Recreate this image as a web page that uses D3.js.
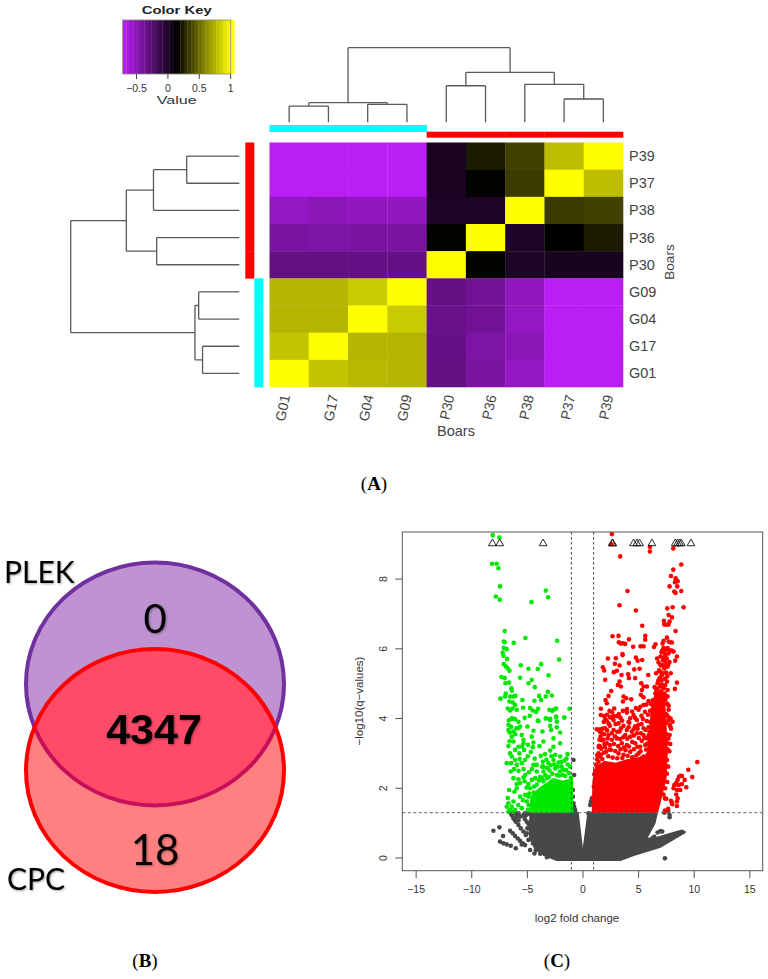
<!DOCTYPE html>
<html>
<head>
<meta charset="utf-8">
<script src="https://cdn.jsdelivr.net/npm/d3@7"></script>
<style>
  html, body { margin: 0; padding: 0; background: #fff; }
  text { font-family: "Liberation Sans", Arial, sans-serif; }
</style>
</head>
<body>
<svg id="fig" width="768" height="979"></svg>
<script>
// (A) correlation heatmap
var colNames = ["G01", "G17", "G04", "G09", "P30", "P36", "P38", "P37", "P39"];
var rowNames = ["P39", "P37", "P38", "P36", "P30", "G09", "G04", "G17", "G01"];
var corr = [
  [-.72, -.72, -.72, -.72, .02, .23, .36, .78, 1],
  [-.72, -.72, -.72, -.72, .02, .15, .34, 1, .78],
  [-.54, -.50, -.53, -.53, 0, 0, 1, .34, .36],
  [-.42, -.44, -.42, -.42, .15, 1, 0, .14, .23],
  [-.32, -.32, -.33, -.33, 1, .15, .01, .03, .03],
  [.75, .75, .82, 1, -.32, -.38, -.52, -.72, -.72],
  [.75, .75, 1, .82, -.34, -.38, -.54, -.72, -.72],
  [.80, 1, .75, .75, -.33, -.44, -.50, -.72, -.72],
  [1, .80, .76, .75, -.32, -.42, -.54, -.72, -.72]
];
var colGroups = ["#00ffff", "#00ffff", "#00ffff", "#00ffff", "#ff0000", "#ff0000", "#ff0000", "#ff0000", "#ff0000"];
var keyTicks = [-0.5, 0, 0.5, 1];
var colLabelNudge = [-4, 5, 1, 0, 3, 6, 4, 6, 5];

// dendrogram, heights as a share of the root height
var tree = {h: 1, kids: [
  {h: .263, kids: [
    {h: .218, kids: ["G01", "G17"]},
    {h: .241, kids: ["G04", "G09"]}
  ]},
  {h: .67, kids: [
    {h: .49, kids: ["P30", "P36"]},
    {h: .509, kids: ["P38", {h: .312, kids: ["P37", "P39"]}]}
  ]}
]};

// (B) venn counts
var vennLabels = ["PLEK", "CPC"];
var vennCounts = {plekOnly: "0", both: "4347", cpcOnly: "18"};

// (C) volcano, [log2 fold change, -log10 q]
var xTicks = [-15, -10, -5, 0, 5, 10, 15];
var yTicks = [0, 2, 4, 6, 8];
var fcCut = 1, qCut = 1.3;
var capped = [-8.1, -7.44, -3.54, 2.67, 2.72, 4.59, 4.89, 5.13, 6.24, 8.34, 8.55, 8.73, 8.88, 9.75];

var greenPts = [[-8.07,9.26],[-7.47,9.19],[-8.13,8.44],[-7.71,8.44],[-7.56,8.31],[-7.41,7.79],[-7.8,7.5],[-7.44,7.41],[-4.59,7.34],[-3.3,7.67],[-3.09,7.48],
  [-6.99,6.51],[-5.13,6.31],[-2.28,6.23],[-7.08,6.21],[-6.99,6.19],[-6.18,6.17],[-7.08,6.03],[-6.81,5.99],[-7.17,5.89],[-6.78,5.71],[-2.1,5.69],[-7.11,5.8],
  [-7.08,5.56],[-6.87,5.49],[-6.72,5.44],[-6.57,5.37],[-5.55,5.53],[-4.86,5.43],[-4.02,5.42],[-3.72,5.56],[-3.06,5.24],[-5.61,5.17],[-7.29,5.19],[-6.99,5.16],
  [-6.93,5.01],[-6.6,5.03],[-4.56,5.11],[-4.86,5.01],[-4.29,4.9],[-6.39,4.87],[-6.36,4.8],[-6.9,4.72],[-3.12,4.77],[-7.38,4.57],[-6.96,4.63],[-6.51,4.63],[-6.21,4.63],
  [-6.03,4.65],[-6.57,4.49],[-6.27,4.46],[-6.06,4.39],[-5.4,4.53],[-4.32,4.51],[-3.9,4.65],[-3.72,4.53],[-3.3,4.63],[-2.76,4.66],[-6.72,4.29],[-6.51,4.23],[-6.3,4.29],
  [-5.91,4.25],[-5.34,4.31],[-4.71,4.3],[-4.47,4.23],[-3.99,4.28],[-4.17,4.19],[-2.97,4.25],[-2.73,4.22],[-2.37,4.29],[-1.17,4.28],[-2.55,4.26],[-4.74,4.08],
  [-6.36,3.99],[-6.15,3.99],[-3.3,4.0],[-2.91,3.99],[-2.37,4.03],[-1.62,4.03],[-4.02,3.94],
  [-6.36,4.01],[-6.06,3.98],[-6.66,3.82],[-5.76,3.91],[-5.61,3.77],[-6.66,3.67],[-6.21,3.63],[-5.76,3.72],[-5.46,3.53],[-6.36,3.48],[-4.95,3.77],[-4.41,3.65],[-3.6,3.63],
  [-3.96,3.93],[-3.27,4.01],[-2.91,3.96],[-2.37,4.06],[-1.65,4.03],[-2.31,3.91],[-2.91,3.79],[-2.82,3.67],[-2.31,3.75],[-2.01,3.6],[-2.61,3.43],[-4.56,3.48],[-5.31,3.39],
  [-6.66,3.21],[-6.21,3.34],[-5.76,3.19],[-5.31,3.29],[-6.06,3.1],[-6.51,3.0],[-5.67,3.0],[-5.25,3.1],[-4.41,3.31],[-4.47,3.18],[-4.65,3.04],[-3.51,3.34],[-3.87,3.21],
  [-2.61,3.19],[-2.01,3.29],[-2.91,3.08],[-2.46,2.96],[-3.36,2.98],[-3.75,2.93],[-1.35,2.98],[-2.01,2.91],[-6.36,2.91],[-6.06,2.81],[-6.81,2.72],[-5.91,2.67],[-5.16,2.81],
  [-5.46,2.72],[-4.11,2.67],[-4.41,2.67],[-3.57,2.76],[-2.61,2.81],[-3.51,2.62],[-3.06,2.72],[-2.16,2.74],[-1.65,2.79],
  [-6.21,2.29],[-5.76,2.26],[-5.16,2.38],[-5.31,2.31],[-4.11,2.48],[-3.51,2.48],[-2.97,2.51],[-2.46,2.57],[-1.71,2.53],[-2.01,2.48],[-4.56,2.24],[-4.86,2.12],[-4.26,2.29],
  [-3.81,2.33],[-3.21,2.29],[-2.31,2.38],[-1.56,2.35],
  [-6.6,1.95],[-5.91,2.0],[-5.61,1.76],[-5.16,1.81],[-4.86,1.76],[-6.66,1.57],[-6.21,1.62],[-6.81,1.47],[-6.36,1.47],[-6.06,1.38],[-5.46,1.43],[-5.01,1.62],[-4.56,1.47],
  [-6.51,1.38],[-6.66,1.33],[-6.21,1.33],[-4.71,2.0],[-4.35,2.05],
  [-3.62,2.62],[-3.18,2.58],[-2.88,2.66],[-2.72,2.42],[-2.55,2.68],[-2.24,2.62],[-2.12,2.36],[-1.88,2.62],[-1.76,2.38],[-1.48,2.52],[-1.22,2.44],[-1.33,2.68],[-1.12,2.62],
  [-1.05,2.3],[-3.35,2.38],[-3.02,2.32],[-3.66,2.3],[-3.92,2.22],[-4.12,2.1],[-3.52,2.2],[-4.38,1.88],[-4.46,1.62],[-4.85,1.52],[-4.92,1.38],[-4.78,1.85],[-3.24,2.82],
  [-2.78,2.92],[-1.92,2.75],[-1.45,2.85],[-5.62,2.15],[-5.2,2.2],[-5.02,2.02],[-5.92,2.12],[-6.12,1.9],[-5.35,1.66],[-5.78,1.52],[-6.72,1.72],[-6.45,2.48],[-6.15,2.55],
  [-5.75,2.5],[-5.3,2.55],[-4.82,2.46],[-4.55,2.55],[-6.42,2.72],[-5.65,2.84],[-4.92,2.92],[-4.3,2.85],[-6.55,3.35],[-6.05,3.55],[-5.45,3.2],[-4.9,3.25],[-6.62,3.95],
  [-6.42,3.76],[-5.95,3.72],[-5.2,4.02],[-6.55,3.6]];
var greenMass = [[-.96,2.24],[-1.86,2.19],[-2.61,2.26],[-3.21,2.12],[-3.81,2.0],[-4.56,1.76],[-4.65,1.33],[-.96,1.33]];

var redPts = [[2.64,9.29],[2.64,9.0],[3.39,8.65],[6.06,8.92],[6.06,8.79],[8.16,8.88],[8.88,8.42],[8.16,8.27],[7.95,8.09],[8.37,8.02],[8.55,7.94],[8.31,7.91],[8.4,7.98],
  [7.83,7.79],[8.52,7.79],[4.05,7.66],[8.88,7.66],[8.25,7.64],[8.37,7.6],[3.33,7.25],[4.8,7.1],[7.62,7.16],[8.1,7.19],[9.09,7.19],[7.74,6.97],[8.04,6.9],[7.32,6.8],[7.35,6.7],
  [7.83,6.78],[7.53,6.69],[7.74,6.7],[5.37,6.66],[8.37,6.51],[2.7,6.36],[3.24,6.37],[5.64,6.37],[5.64,6.26],[4.17,6.27],[7.59,6.32],[7.29,6.23],[3.27,6.19],[3.45,6.15],
  [3.84,6.14],[3.63,6.16],[7.74,6.21],[7.89,6.19],[8.04,6.18],[7.2,6.15],[4.56,6.06],[5.22,6.07],[5.49,6.07],[6.42,6.05],[6.57,6.13],[7.29,6.0],[7.65,6.02],[7.83,5.96],
  [8.19,5.92],[7.35,5.9],[7.14,5.94],[3.6,5.85],
  [2.28,5.72],[3.0,5.73],[3.6,5.82],[4.17,5.59],[2.91,5.57],[3.33,5.52],[4.8,5.75],[4.95,5.66],[5.37,5.68],[1.83,5.47],[1.95,5.38],[4.65,5.41],[5.13,5.43],[2.82,5.33],[3.09,5.37],
  [3.51,5.25],[4.11,5.27],[4.17,5.16],[4.74,5.16],[5.91,5.25],[2.04,5.11],[3.33,5.06],[3.18,4.96],[3.45,4.92],[5.28,5.01],[5.49,4.92],[5.79,4.92],[5.34,4.82],[2.58,4.79],
  [5.25,4.68],[5.49,4.61],[2.34,4.65],[2.07,4.53],[3.69,4.63],[3.63,4.49],[3.93,4.58],[4.38,4.55],[2.19,4.44],[2.85,4.29],[2.43,4.22],[1.65,4.28],[3.63,4.22],[3.99,4.27],
  [3.99,4.17],[1.65,4.1],[1.95,4.07],[2.04,3.98],[2.49,4.04],[2.79,4.07],[3.09,4.07],[1.59,3.69],[1.29,3.69],[4.29,4.01],[4.89,3.96],[5.43,3.99],[8.49,5.03],[8.31,4.85],
  [8.1,3.91],[7.74,4.37],[7.74,4.25],[7.65,4.63],[7.44,4.53],[8.49,5.78],[8.34,5.66],[7.65,4.82],
  [4.14,3.91],[4.59,4.1],[5.04,4.25],[5.49,4.39],[5.94,4.5],[6.33,4.53],
  [7.29,6.02],[7.53,5.99],[7.74,5.87],[7.44,5.82],[7.23,5.68],[7.44,5.63],[7.14,5.54],[7.35,5.44],[7.65,5.49],[6.99,5.35],[7.23,5.3],[6.93,5.16],[7.14,5.11],[7.59,5.06],
  [6.75,5.01],[6.99,4.92],[7.29,4.87],[6.63,4.82],[6.93,4.74],[7.23,4.71],[6.63,4.63],[6.99,4.58],[7.53,4.63],
  [1.74,3.58],[2.04,3.72],[2.34,3.86],[2.79,3.96],[3.24,3.86],[3.69,3.79],[4.14,3.75],[4.59,3.69],[5.04,3.82],[5.49,3.72],[5.94,3.75],[1.89,3.39],[2.34,3.53],[2.79,3.67],
  [3.33,3.63],[3.84,3.53],[4.29,3.48],[4.89,3.58],[5.49,3.53],[5.79,3.43],[1.59,3.19],[2.19,3.29],[2.64,3.39],[3.09,3.43],[3.54,3.29],[3.99,3.24],[4.74,3.29],[5.19,3.19],
  [5.64,3.24],[1.65,2.96],[2.13,3.05],[2.55,3.1],[3.24,3.0],[3.69,2.96],[4.29,3.05],[5.04,3.0],[5.49,2.91],[5.94,3.0],[7.74,3.96],[7.89,3.77],[7.83,3.53],[7.65,3.29],
  [7.89,3.27],[7.44,3.0],[7.59,2.81],[1.53,3.39],[1.44,3.0],[1.44,2.76],[1.23,2.67],
  [10.32,2.75],[9.51,2.53],[9.87,2.32],[8.79,2.36],[8.94,2.35],[8.67,2.33],[9.18,2.24],[8.55,2.24],[8.43,2.16],[8.25,2.09],[8.19,2.0],[8.64,2.09],[8.94,2.12],[9.33,2.03],
  [8.79,1.95],[8.49,1.95],[8.43,1.82],[8.55,1.71],[8.49,1.62],[8.49,1.49],[7.95,1.64],[8.04,1.59],[8.07,1.54],[7.41,1.71],[7.53,1.7],[7.71,1.41],[7.41,1.36],
  [1.31,2.83],[1.52,2.91],[1.78,2.84],[1.93,3.02],[2.31,2.92],[2.42,3.11],[2.71,2.88],[2.95,3.07],[3.13,2.86],[3.42,3.12],[3.58,2.87],[3.87,3.09],[4.06,2.93],[4.47,2.89],
  [4.62,3.12],[4.83,2.94],[5.22,3.06],[5.36,2.87],[5.71,3.11],[5.83,2.94],[6.02,3.16],[1.68,3.13],[2.02,3.18],
  [1.49,3.22],[1.72,3.38],[1.97,3.27],[2.26,3.43],[2.47,3.24],[2.83,3.27],[2.92,3.49],[3.21,3.21],[3.38,3.41],[3.73,3.17],[3.66,3.46],[4.03,3.42],[4.18,3.2],[4.47,3.33],
  [4.61,3.51],[4.93,3.19],[5.06,3.44],[5.33,3.36],[5.58,3.44],[5.82,3.28],[5.95,3.52],[6.08,3.35],[1.62,3.48],
  [1.56,3.62],[1.81,3.71],[1.96,3.55],[2.22,3.66],[2.46,3.79],[2.63,3.58],[2.97,3.84],[3.12,3.62],[3.46,3.72],[3.56,3.94],[3.99,3.67],[4.21,3.88],[4.43,3.62],[4.73,3.78],
  [4.95,3.71],[5.25,3.58],[5.31,3.84],[5.66,3.67],[5.78,3.93],[6.02,3.62],[6.11,3.89],[1.92,3.9],[2.15,3.95],[2.62,4.02],
  [2.21,4.11],[2.67,4.18],[3.27,4.13],[3.41,4.02],[4.46,4.2],[4.81,4.3],[5.21,4.34],[5.62,4.19],[5.88,4.11],[6.08,4.22],[5.74,4.4],[5.3,4.08],[6.14,4.42],[4.72,4.02],
  [7.62,4.42],[7.71,4.05],[7.82,3.83],[7.96,3.71],[7.58,3.55],[7.72,3.42],[7.65,3.12],[7.81,3.06],[7.7,2.62],[7.58,2.42],[7.62,2.18],[7.42,2.0],[7.28,1.82],[7.55,4.12],
  [7.48,3.88],[7.92,4.0],[1.06,2.4],[1.14,2.5],[1.02,2.05],[.98,1.75],[1.33,2.95],[1.47,3.18],
  [6.71,5.72],[6.84,5.61],[7.02,5.78],[7.12,5.9],[7.36,5.75],[7.58,5.72],[7.71,5.55],[7.02,5.52],[6.88,5.38],[7.31,5.52],[7.51,5.32],[7.12,5.24],[6.82,5.09],[7.42,5.14],
  [7.62,5.21],[6.72,4.86],[7.05,4.78],[7.12,4.98],[7.42,4.95],[6.81,4.68],[7.12,4.66],[7.38,4.72],[6.55,4.72],[6.48,4.9],[8.02,5.95],[7.82,5.62],[7.93,5.3],[6.62,5.3]];
var redMass = [[.95,1.33],[1.0,2.2],[1.25,2.6],[2,2.75],[3,2.7],[4,2.8],[5,2.85],[5.9,2.95],[6.1,3.6],[6.25,4.3],[6.5,4.6],[7.3,4.6],[7.45,3.8],[7.55,3.0],[7.45,2.3],[7.0,1.7],[6.7,1.33]];

var greyPts = [[-8.01,.78],[-7.47,.88],[-7.14,.63],[-7.41,.47],[-7.11,.42],[-6.81,.39],[-6.45,.35],[-6.0,.28],[-5.46,.39],[-5.16,.37],[-4.71,.23],[-4.32,.13],
  [-6.51,.78],[-6.27,.71],[-6.06,.63],[-5.82,.56],[-5.61,.49],[-5.37,.42],[-6.36,1.23],[-6.21,1.14],[-6.0,1.04],[-5.76,.95],[-5.55,.85],[-5.31,.76],[-5.1,.66],[-4.86,.52],
  [-6.42,1.28],[-6.06,1.28],[-5.76,1.28],[-5.31,1.23],[-5.55,1.19],[-5.91,1.19],[-5.01,1.04],[-4.86,.98],[-5.07,1.23],[-4.95,.85],[-5.01,.71],
  [-6.3,1.28],[-5.2,1.28],[-4.95,1.28],[-5.18,1.12],[-5.75,1.08],[-6.1,1.1],[-4.7,1.25],[-4.72,.9],[-4.62,.55],[-4.45,.42],[-4.2,.22],[-3.8,.12],[-3.2,.02],
  [-.81,2.81],[-.75,2.38],[-.87,1.95],[-.87,1.76],[-.81,1.57],[-.75,1.47],[-.66,1.38],[.84,1.71],[.69,1.52],[.54,1.28],[.75,1.62],
  [7.41,-.01],[7.0,.77],[7.17,.76],[6.75,.73],[6.45,.61],[6.24,.56],[5.94,.52],[7.71,1.33],[7.83,1.23],[7.83,1.17],[7.35,1.3]];
var greyLeft = [[-4.6,1.3],[-.45,1.3],[0,.08],[-.02,-.05],[-2.3,-.05],[-3.5,.1],[-4.2,.25],[-4.7,.6],[-4.75,.95]];
var greyRight = [[.55,1.3],[6.66,1.28],[6.45,1.0],[5.79,.61],[5.49,.46],[6.09,.52],[8.94,.78],[9.18,.74],[7.0,.33],[4.59,.09],[3.39,-.05],[.03,-.05],[.05,.08]];

var svg = d3.select("#fig");

// ---- panel A ----
var hm = {left: 269.5, right: 623, top: 142.5, bottom: 387};
var xBand = d3.scaleBand().domain(colNames).range([hm.left, hm.right]);
var yBand = d3.scaleBand().domain(rowNames).range([hm.top, hm.bottom]);
var heat = d3.scaleLinear()
  .domain([-.72, .14, 1])
  .range(["#bb1ef5", "#000000", "#ffff00"])
  .clamp(true);

rowNames.forEach(function(r, i) {
  svg.append("g").selectAll("rect")
    .data(corr[i])
    .enter().append("rect")
      .attr("x", function(d, j) { return xBand(colNames[j]); })
      .attr("y", yBand(r))
      .attr("width", xBand.bandwidth() + .3)
      .attr("height", yBand.bandwidth() + .3)
      .attr("fill", function(d) { return heat(d); });
});

// group bars
svg.append("g").selectAll("rect")
  .data(colNames)
  .enter().append("rect")
    .attr("x", function(d) { return xBand(d); })
    .attr("y", function(d, i) { return colGroups[i] == "#00ffff" ? 125 : 131.7; })
    .attr("width", xBand.bandwidth() + .3)
    .attr("height", function(d, i) { return colGroups[i] == "#00ffff" ? 7 : 6; })
    .attr("fill", function(d, i) { return colGroups[i]; });
svg.append("g").selectAll("rect")
  .data(rowNames)
  .enter().append("rect")
    .attr("x", function(d) { return d[0] == "P" ? 245.3 : 254.3; })
    .attr("y", function(d) { return yBand(d); })
    .attr("width", 9)
    .attr("height", yBand.bandwidth() + .3)
    .attr("fill", function(d) { return d[0] == "P" ? "#ff0000" : "#00ffff"; });

// row / col labels
svg.append("g").selectAll("text")
  .data(rowNames)
  .enter().append("text")
    .attr("x", 629)
    .attr("y", function(d) { return yBand(d) + yBand.bandwidth() / 2 + 5; })
    .attr("font-size", 14.5)
    .attr("fill", "#444")
    .text(function(d) { return d; });
svg.append("g").selectAll("text")
  .data(colNames)
  .enter().append("text")
    .attr("transform", function(d, i) {
      return "translate(" + (xBand(d) + xBand.bandwidth() / 2 + colLabelNudge[i] + 5) + ",396) rotate(-78)";
    })
    .attr("text-anchor", "end")
    .attr("font-size", 14)
    .attr("fill", "#444")
    .text(function(d) { return d; });
svg.append("text")
  .attr("x", 456).attr("y", 436)
  .attr("text-anchor", "middle").attr("font-size", 14.5).attr("fill", "#444")
  .text("Boars");
svg.append("text")
  .attr("transform", "translate(674,262) rotate(-90)")
  .attr("text-anchor", "middle").attr("font-size", 13.5).attr("fill", "#444")
  .text("Boars");

// dendrograms, same tree drawn twice
function leafPos(node, pos) {
  if (typeof node == "string") return pos(node);
  var a = leafPos(node.kids[0], pos), b = leafPos(node.kids[1], pos);
  return (a + b) / 2;
}
function nodeH(node) { return typeof node == "string" ? 0 : node.h; }
function segments(node, pos, out) {
  if (typeof node == "string") return out;
  node.kids.forEach(function(k) {
    out.push({p: leafPos(k, pos), h0: nodeH(k), h1: node.h});
    segments(k, pos, out);
  });
  out.push({a: leafPos(node.kids[0], pos), b: leafPos(node.kids[1], pos), h: node.h});
  return out;
}
var xMid = function(d) { return xBand(d) + xBand.bandwidth() / 2; };
var yMid = function(d) { return yBand(d) + yBand.bandwidth() / 2; };
var topH = d3.scaleLinear().domain([0, 1]).range([122.3, 47.7]);
var leftH = d3.scaleLinear().domain([0, 1]).range([239.3, 70.7]);
var dendroPath = d3.path();
segments(tree, xMid, []).forEach(function(s) {
  if (s.a !== undefined) { dendroPath.moveTo(s.a, topH(s.h)); dendroPath.lineTo(s.b, topH(s.h)); }
  else { dendroPath.moveTo(s.p, topH(s.h0)); dendroPath.lineTo(s.p, topH(s.h1)); }
});
segments(tree, yMid, []).forEach(function(s) {
  if (s.a !== undefined) { dendroPath.moveTo(leftH(s.h), s.a); dendroPath.lineTo(leftH(s.h), s.b); }
  else { dendroPath.moveTo(leftH(s.h0), s.p); dendroPath.lineTo(leftH(s.h1), s.p); }
});
svg.append("path")
  .attr("d", dendroPath.toString())
  .attr("fill", "none").attr("stroke", "#5a5a5a").attr("stroke-width", 1.3);

// color key
var keyX = d3.scaleLinear().domain([-.72, 1]).range([122.7, 230.7]);
var keySteps = d3.range(-.72, 1, .0573);
svg.append("g").selectAll("rect")
  .data(keySteps)
  .enter().append("rect")
    .attr("x", function(d) { return keyX(d); })
    .attr("y", 20)
    .attr("width", keyX(.0573) - keyX(0) + .3)
    .attr("height", 54)
    .attr("fill", function(d) { return heat(d + .0286); });
svg.append("rect")
  .attr("x", 122.7).attr("y", 20).attr("width", 108).attr("height", 54)
  .attr("fill", "none").attr("stroke", "#8a8a70").attr("stroke-width", .8);
svg.append("g").selectAll("line")
  .data(keyTicks)
  .enter().append("line")
    .attr("x1", function(d) { return keyX(d); })
    .attr("x2", function(d) { return keyX(d); })
    .attr("y1", 74).attr("y2", 79)
    .attr("stroke", "#444").attr("stroke-width", 1);
svg.append("g").selectAll("text")
  .data(keyTicks)
  .enter().append("text")
    .attr("x", function(d) { return keyX(d); })
    .attr("y", 92)
    .attr("text-anchor", "middle")
    .attr("font-size", 10.5)
    .attr("fill", "#333")
    .text(function(d) { return d3.format("")(d).replace("-", "\u2212"); });
svg.append("text")
  .attr("x", 176.7).attr("y", 104)
  .attr("text-anchor", "middle").attr("font-size", 11.5)
  .attr("fill", "#333").attr("textLength", 40).attr("lengthAdjust", "spacingAndGlyphs")
  .text("Value");
svg.append("text")
  .attr("x", 176.7).attr("y", 14)
  .attr("text-anchor", "middle").attr("font-size", 11).attr("font-weight", "bold")
  .attr("fill", "#222").attr("textLength", 70).attr("lengthAdjust", "spacingAndGlyphs")
  .text("Color Key");

// ---- panel B ----
var venn = {cx: 155, rx: 129, ry: 121.5, top: 684, low: 770.5};
var defs = svg.append("defs");
defs.append("clipPath").attr("id", "cpcClip").append("ellipse")
  .attr("cx", venn.cx).attr("cy", venn.low).attr("rx", venn.rx).attr("ry", venn.ry);
function vennEllipse(cy) {
  return svg.append("ellipse")
    .attr("cx", venn.cx).attr("cy", cy).attr("rx", venn.rx).attr("ry", venn.ry);
}
vennEllipse(venn.top).attr("fill", "#bf93d2").attr("stroke", "#7030a0").attr("stroke-width", 4);
vennEllipse(venn.low).attr("fill", "#ff8080");
vennEllipse(venn.top).attr("fill", "#ff4a68").attr("stroke", "#c8105a").attr("stroke-width", 4)
  .attr("clip-path", "url(#cpcClip)");
vennEllipse(venn.low).attr("fill", "none").attr("stroke", "#ff0000").attr("stroke-width", 4);

var vennFont = "Lato, 'Open Sans', sans-serif";
var vennShadow = "drop-shadow(1px 1px 1px rgba(0,0,0,.35))";
[
  [vennLabels[0], 4, 582.5, 30, "start"],
  [vennLabels[1], 7, 890, 30, "start"],
  [vennCounts.plekOnly, 155, 633, 40, "middle"],
  [vennCounts.cpcOnly, 155, 865, 42, "middle"]
].forEach(function(t) {
  svg.append("text")
    .attr("x", t[1]).attr("y", t[2])
    .attr("font-size", t[3]).attr("text-anchor", t[4])
    .style("font-family", vennFont).style("filter", vennShadow)
    .text(t[0]);
});
svg.append("text").attr("x", 154).attr("y", 743.5).attr("text-anchor", "middle")
  .attr("font-size", 43).attr("font-weight", "bold").style("filter", vennShadow)
  .text(vennCounts.both);

// ---- panel C ----
var box = {left: 402.3, right: 762.7, top: 532, bottom: 870.7};
var xScale = d3.scaleLinear().domain([-16.2, 16.2]).range([box.left, box.right]);
var yScale = d3.scaleLinear().domain([-.364, 9.35]).range([box.bottom, box.top]);
var blob = d3.line()
  .x(function(d) { return xScale(d[0]); })
  .y(function(d) { return yScale(d[1]); })
  .curve(d3.curveLinearClosed);

defs.append("clipPath").attr("id", "plotClip").append("rect")
  .attr("x", box.left).attr("y", box.top)
  .attr("width", box.right - box.left).attr("height", box.bottom - box.top);
var plot = svg.append("g").attr("clip-path", "url(#plotClip)");

function drawMass(pts, color) {
  plot.append("path").attr("d", blob(pts))
    .attr("fill", color).attr("stroke", color).attr("stroke-width", 2.5).attr("stroke-linejoin", "round");
}
function drawDots(pts, color) {
  plot.append("g").selectAll("circle")
    .data(pts)
    .enter().append("circle")
      .attr("cx", function(d) { return xScale(d[0]); })
      .attr("cy", function(d) { return yScale(d[1]); })
      .attr("r", 2.3)
      .attr("fill", color);
}
drawMass(greyLeft, "#484848");
drawMass(greyRight, "#484848");
drawDots(greyPts, "#484848");
drawMass(greenMass, "#00e800");
drawDots(greenPts, "#00e800");
drawMass(redMass, "#ff0000");
drawDots(redPts, "#ff0000");

plot.append("g").selectAll("path")
  .data(capped)
  .enter().append("path")
    .attr("d", d3.symbol().type(d3.symbolTriangle).size(26))
    .attr("transform", function(d) { return "translate(" + xScale(d) + "," + yScale(9.02) + ")"; })
    .attr("fill", "none").attr("stroke", "#111").attr("stroke-width", .9);

// cut-off lines
[-fcCut, fcCut].forEach(function(v) {
  svg.append("line")
    .attr("x1", xScale(v)).attr("x2", xScale(v))
    .attr("y1", box.top).attr("y2", box.bottom)
    .attr("stroke", "#444").attr("stroke-width", 1).attr("stroke-dasharray", "2.5,2.5");
});
svg.append("line")
  .attr("x1", box.left).attr("x2", box.right)
  .attr("y1", yScale(qCut)).attr("y2", yScale(qCut))
  .attr("stroke", "#666").attr("stroke-width", 1).attr("stroke-dasharray", "3,2.5");

svg.append("rect")
  .attr("x", box.left).attr("y", box.top)
  .attr("width", box.right - box.left).attr("height", box.bottom - box.top)
  .attr("fill", "none").attr("stroke", "#555").attr("stroke-width", 1);

var xAxis = d3.axisBottom(xScale).tickValues(xTicks).tickSize(7.5).tickPadding(7)
  .tickFormat(function(d) { return String(d).replace("-", "\u2212"); });
var yAxis = d3.axisLeft(yScale).tickValues(yTicks).tickSize(7).tickFormat(d3.format("d"));
var gx = svg.append("g").attr("transform", "translate(0," + box.bottom + ")").call(xAxis);
var gy = svg.append("g").attr("transform", "translate(" + box.left + ",0)").call(yAxis);
gx.select(".domain").remove();
gy.select(".domain").remove();
gx.selectAll("line").attr("stroke", "#555");
gy.selectAll("line").attr("stroke", "#555");
gx.selectAll("text").attr("font-size", 10.5).attr("fill", "#333");
gy.selectAll("text")
  .attr("font-size", 10.5).attr("fill", "#333")
  .attr("text-anchor", "middle").attr("x", 0).attr("dy", 0)
  .attr("transform", function(d) { return "translate(-15," + yScale(d) + ") rotate(-90)"; })
  .attr("y", 0);
gy.selectAll(".tick").attr("transform", "translate(0,0)");
gy.selectAll(".tick line").attr("transform", function(d) { return "translate(0," + yScale(d) + ")"; });

svg.append("text")
  .attr("x", 577).attr("y", 921.5)
  .attr("text-anchor", "middle").attr("font-size", 11.5).attr("fill", "#333")
  .text("log2 fold change");
svg.append("text")
  .attr("transform", "translate(363,701) rotate(-90)")
  .attr("text-anchor", "middle").attr("font-size", 11.5).attr("fill", "#333")
  .text("\u2212log10(q\u2212values)");

// panel letters
var panelTags = [["A", 374, 490], ["B", 145, 967], ["C", 557, 967]];
panelTags.forEach(function(t) {
  var lab = svg.append("text")
    .attr("x", t[1]).attr("y", t[2])
    .attr("text-anchor", "middle").attr("font-size", 19)
    .style("font-family", "'Liberation Serif', serif");
  lab.append("tspan").text("(");
  lab.append("tspan").attr("font-weight", "bold").text(t[0]);
  lab.append("tspan").text(")");
});
</script>
</body>
</html>
